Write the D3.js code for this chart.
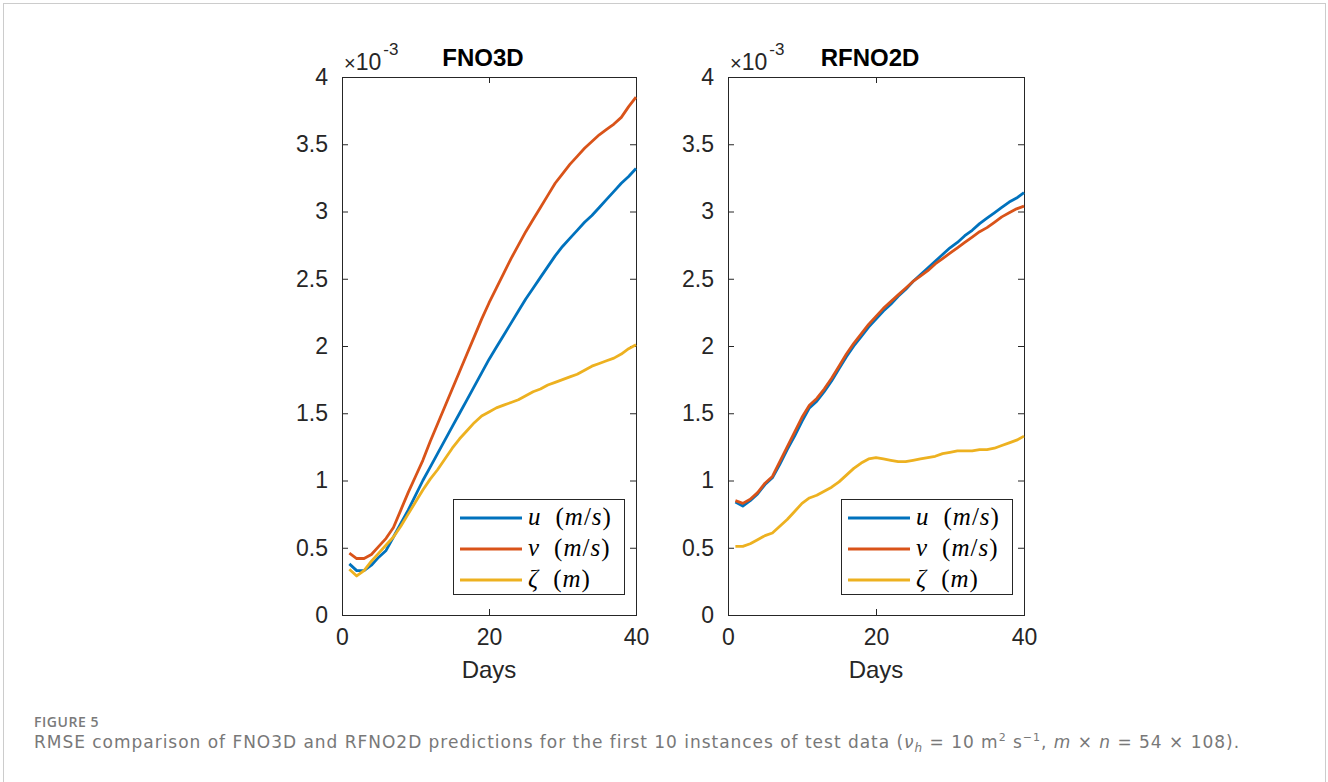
<!DOCTYPE html>
<html>
<head>
<meta charset="utf-8">
<script src="https://cdn.jsdelivr.net/npm/d3@7"></script>
<style>
  html, body { margin: 0; padding: 0; background: #fff; }
  svg { display: block; }
</style>
</head>
<body>
<svg id="fig" width="1328" height="782"></svg>
<script>
// Forecast day index (1..40)
const days = d3.range(1, 41);

// RMSE values (×10^-3) for FNO3D
const fno3dU = [0.38,0.33,0.33,0.37,0.43,0.48,0.58,0.68,0.78,0.89,
                1.00,1.10,1.20,1.30,1.40,1.50,1.60,1.70,1.80,1.90,
                1.99,2.08,2.17,2.26,2.35,2.43,2.51,2.59,2.67,2.74,
                2.80,2.86,2.92,2.97,3.03,3.09,3.15,3.21,3.26,3.32];
const fno3dV = [0.46,0.42,0.42,0.45,0.51,0.57,0.65,0.78,0.91,1.03,
                1.15,1.29,1.42,1.55,1.68,1.81,1.94,2.07,2.20,2.32,
                2.43,2.54,2.65,2.75,2.85,2.94,3.03,3.12,3.21,3.28,
                3.35,3.41,3.47,3.52,3.57,3.61,3.65,3.70,3.78,3.85];
const fno3dZeta = [0.34,0.29,0.33,0.40,0.46,0.52,0.58,0.66,0.75,0.84,
                   0.93,1.01,1.08,1.16,1.24,1.31,1.37,1.43,1.48,1.51,
                   1.54,1.56,1.58,1.60,1.63,1.66,1.68,1.71,1.73,1.75,
                   1.77,1.79,1.82,1.85,1.87,1.89,1.91,1.94,1.98,2.01];

// RMSE values (×10^-3) for RFNO2D
const rfno2dU = [0.84,0.81,0.85,0.90,0.97,1.02,1.12,1.23,1.33,1.44,
                 1.54,1.59,1.66,1.74,1.83,1.92,2.00,2.07,2.14,2.20,
                 2.26,2.31,2.37,2.42,2.48,2.53,2.58,2.63,2.68,2.73,
                 2.77,2.82,2.86,2.91,2.95,2.99,3.03,3.07,3.10,3.14];
const rfno2dV = [0.85,0.83,0.86,0.91,0.98,1.03,1.14,1.25,1.36,1.47,
                 1.56,1.61,1.68,1.76,1.85,1.94,2.02,2.09,2.16,2.22,
                 2.28,2.33,2.38,2.43,2.48,2.52,2.56,2.61,2.65,2.69,
                 2.73,2.77,2.81,2.85,2.88,2.92,2.96,2.99,3.02,3.04];
const rfno2dZeta = [0.51,0.51,0.53,0.56,0.59,0.61,0.66,0.71,0.77,0.83,
                    0.87,0.89,0.92,0.95,0.99,1.04,1.09,1.13,1.16,1.17,
                    1.16,1.15,1.14,1.14,1.15,1.16,1.17,1.18,1.20,1.21,
                    1.22,1.22,1.22,1.23,1.23,1.24,1.26,1.28,1.30,1.33];

const panelTitles = ["FNO3D", "RFNO2D"];
const xTicks = [0, 20, 40];
const yTicks = [0, 0.5, 1, 1.5, 2, 2.5, 3, 3.5, 4];
const seriesNames = ["u", "v", "ζ"];
const seriesUnits = ["m/s", "m/s", "m"];
const seriesColors = ["#0072BD", "#D95319", "#EDB120"];

const panels = [
  { title: panelTitles[0], series: [fno3dU, fno3dV, fno3dZeta], left: 342, right: 636 },
  { title: panelTitles[1], series: [rfno2dU, rfno2dV, rfno2dZeta], left: 728, right: 1024 }
];

const svg = d3.select("#fig");
const axisColor = "#262626";
const plotTop = 77, plotBottom = 615;
const sansFont = "'Liberation Sans', Arial, Helvetica, sans-serif";
const serifFont = "'Liberation Serif', 'DejaVu Serif', serif";

// outer frame of the figure
svg.append("rect")
  .attr("x", 3.5).attr("y", 3.5)
  .attr("width", 1322).attr("height", 800)
  .attr("fill", "none").attr("stroke", "#cccccc").attr("stroke-width", 1);

panels.forEach(p => {
  const x = d3.scaleLinear().domain([0, 40]).range([p.left, p.right]);
  const y = d3.scaleLinear().domain([0, 4]).range([plotBottom, plotTop]);
  const g = svg.append("g");

  // axes: ticks point inward, box on all four sides
  const styleAxis = sel => {
    sel.select(".domain").remove();
    sel.selectAll(".tick line").attr("stroke", axisColor);
    sel.selectAll(".tick text")
      .attr("fill", axisColor)
      .style("font-family", sansFont)
      .style("font-size", "23px");
  };
  g.append("g").attr("transform", `translate(0,${plotBottom})`)
    .call(d3.axisBottom(x).tickValues(xTicks).tickSize(-6).tickPadding(14).tickFormat(d3.format("d")))
    .call(styleAxis);
  g.append("g").attr("transform", `translate(0,${plotTop})`)
    .call(d3.axisTop(x).tickValues(xTicks).tickSize(-6).tickFormat(""))
    .call(styleAxis);
  g.append("g").attr("transform", `translate(${p.left},0)`)
    .call(d3.axisLeft(y).tickValues(yTicks).tickSize(-6).tickPadding(14).tickFormat(d => d3.format("")(d)))
    .call(styleAxis);
  g.append("g").attr("transform", `translate(${p.right},0)`)
    .call(d3.axisRight(y).tickValues(yTicks).tickSize(-6).tickFormat(""))
    .call(styleAxis);

  g.append("rect")
    .attr("x", p.left + 0.5).attr("y", plotTop + 0.5)
    .attr("width", p.right - p.left).attr("height", plotBottom - plotTop)
    .attr("fill", "none").attr("stroke", axisColor).attr("stroke-width", 1);

  // exponent label ×10^-3
  const ex = g.append("text")
    .attr("x", p.left + 2).attr("y", 70)
    .attr("fill", axisColor)
    .style("font-family", sansFont).style("font-size", "23px");
  ex.append("tspan").style("font-size", "20px").text("×");
  ex.append("tspan").text("10");
  ex.append("tspan").attr("dx", 2).attr("dy", -15).style("font-size", "17px").text("-3");

  // panel title
  g.append("text")
    .attr("x", (p.left + p.right) / 2 - 6).attr("y", 66)
    .attr("text-anchor", "middle")
    .attr("fill", "#000")
    .style("font-family", sansFont).style("font-size", "24px").style("font-weight", "bold")
    .text(p.title);

  // x-axis label
  g.append("text")
    .attr("x", (p.left + p.right) / 2).attr("y", 678)
    .attr("text-anchor", "middle")
    .attr("fill", axisColor)
    .style("font-family", sansFont).style("font-size", "24px")
    .text("Days");

  // curves
  const line = d3.line().x((d, i) => x(days[i])).y(d => y(d));
  p.series.forEach((s, k) => {
    g.append("path")
      .datum(s)
      .attr("d", line)
      .attr("fill", "none")
      .attr("stroke", seriesColors[k])
      .attr("stroke-width", 2.8)
      .attr("stroke-linejoin", "round");
  });

  // legend
  const lgRight = p.right - 12, lgLeft = lgRight - 171;
  const lg = g.append("g");
  lg.append("rect")
    .attr("x", lgLeft + 0.5).attr("y", 499.5)
    .attr("width", 171).attr("height", 95)
    .attr("fill", "#fff").attr("stroke", axisColor).attr("stroke-width", 1);
  seriesNames.forEach((nm, k) => {
    const yy = 518 + k * 31;
    lg.append("line")
      .attr("x1", lgLeft + 7).attr("x2", lgLeft + 69)
      .attr("y1", yy).attr("y2", yy)
      .attr("stroke", seriesColors[k]).attr("stroke-width", 2.8);
    const t = lg.append("text")
      .attr("x", lgLeft + 75).attr("y", yy + 7)
      .attr("fill", "#000")
      .style("font-family", serifFont).style("font-size", "25px")
      .style("letter-spacing", "1px");
    t.append("tspan").style("font-style", "italic").text(nm);
    t.append("tspan").attr("dx", 14).text("(");
    const unit = seriesUnits[k].split("/");
    t.append("tspan").style("font-style", "italic").text(unit[0]);
    if (unit.length > 1) {
      t.append("tspan").text("/");
      t.append("tspan").style("font-style", "italic").text(unit[1]);
    }
    t.append("tspan").text(")");
  });
});

// caption
const capFont = "'DejaVu Sans', 'Open Sans', sans-serif";
const capHead = svg.append("text")
  .attr("x", 34).attr("y", 727)
  .attr("fill", "#7a7a7a")
  .style("font-family", "'Open Sans', sans-serif").style("font-size", "14px").style("font-weight", "600")
  .text("FIGURE 5");
const cap = svg.append("text")
  .attr("x", 34).attr("y", 748)
  .attr("fill", "#787878")
  .style("font-family", capFont).style("font-size", "17px");
cap.append("tspan").text("RMSE comparison of FNO3D and RFNO2D predictions for the first 10 instances of test data (");
cap.append("tspan").style("font-style", "italic").text("ν");
cap.append("tspan").attr("dy", 4).style("font-size", "12px").style("font-style", "italic").text("h");
cap.append("tspan").attr("dy", -4).text(" = 10 m");
cap.append("tspan").attr("dy", -7).style("font-size", "11px").text("2");
cap.append("tspan").attr("dy", 7).text(" s");
cap.append("tspan").attr("dy", -7).style("font-size", "11px").text("−1");
cap.append("tspan").attr("dy", 7).text(", ");
cap.append("tspan").style("font-style", "italic").text("m");
cap.append("tspan").text(" × ");
cap.append("tspan").style("font-style", "italic").text("n");
cap.append("tspan").text(" = 54 × 108).");

// spread caption lines to their set widths
function fitWidth(sel, width) {
  const node = sel.node();
  const n = node.getNumberOfChars();
  const len = node.getComputedTextLength();
  sel.style("letter-spacing", ((width - len) / n) + "px");
}
fitWidth(capHead, 65);
fitWidth(cap, 1206);
</script>
</body>
</html>
